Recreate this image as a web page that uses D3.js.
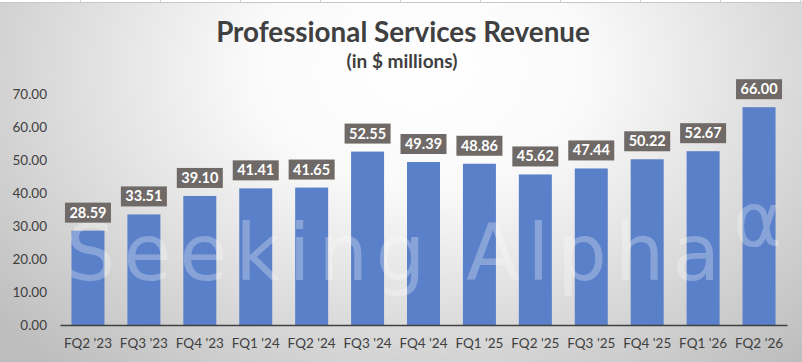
<!DOCTYPE html>
<html><head><meta charset="utf-8">
<script src="https://cdn.jsdelivr.net/npm/d3@7"></script>
<style>html,body{margin:0;padding:0;background:#fff}svg{display:block}</style>
</head><body>
<svg id="chart" width="802" height="362"></svg>
<script>
const categories = ["FQ2 '23","FQ3 '23","FQ4 '23","FQ1 '24","FQ2 '24","FQ3 '24","FQ4 '24","FQ1 '25","FQ2 '25","FQ3 '25","FQ4 '25","FQ1 '26","FQ2 '26"];
const values = [28.59,33.51,39.10,41.41,41.65,52.55,49.39,48.86,45.62,47.44,50.22,52.67,66.00];
const yTicks = [0,10,20,30,40,50,60,70];
const titleText = "Professional Services Revenue";
const subtitleText = "(in $ millions)";

const W = 802, H = 362;
const svg = d3.select("#chart");
const font = "Lato, 'Open Sans', sans-serif";

// background radial gradient
const defs = svg.append("defs");
const rg = defs.append("radialGradient").attr("id","bg")
  .attr("gradientUnits","userSpaceOnUse").attr("cx",420).attr("cy",70).attr("r",560)
  .attr("gradientTransform","translate(420,70) scale(1,0.7) translate(-420,-70)");
rg.append("stop").attr("offset","0%").attr("stop-color","#ffffff");
rg.append("stop").attr("offset","30%").attr("stop-color","#fafafa");
rg.append("stop").attr("offset","100%").attr("stop-color","#bdbdbd");
svg.append("rect").attr("width",W).attr("height",H).attr("fill","url(#bg)");

// top strip (sheet grid remnant)
svg.append("rect").attr("x",0).attr("y",0).attr("width",W).attr("height",2).attr("fill","#ffffff");
svg.append("line").attr("x1",0).attr("x2",W).attr("y1",2.5).attr("y2",2.5).attr("stroke","#c8c8c8");
d3.range(80, W, 80).forEach(x => svg.append("line").attr("x1",x+0.5).attr("x2",x+0.5).attr("y1",0).attr("y2",2).attr("stroke","#d0d0d0"));

const x = d3.scaleBand().domain(categories).range([60, 787]).paddingInner(0.41).paddingOuter(0.205);
const y = d3.scaleLinear().domain([0,70]).range([325, 94]);

// bars
svg.append("g").selectAll("rect").data(values).join("rect")
  .attr("x",(d,i)=>x(categories[i])).attr("width",x.bandwidth())
  .attr("y",d=>y(d)).attr("height",d=>y(0)-y(d))
  .attr("fill","#5a80c9");

// watermark on top of bars
const wmg = svg.append("g").attr("fill","#ffffff").attr("fill-opacity",0.28);
wmg.append("text").attr("x",66).attr("y",280)
  .attr("font-family","'DejaVu Sans', 'Noto Sans', sans-serif").attr("font-size",78)
  .attr("textLength",654).attr("lengthAdjust","spacing")
  .text("Seeking Alpha");
wmg.append("text").attr("x",733).attr("y",246)
  .attr("font-family","'DejaVu Sans', sans-serif").attr("font-size",74)
  .text("α");

// y axis labels
const yAxis = d3.axisLeft(y).tickValues(yTicks).tickFormat(d3.format(".2f")).tickSize(0).tickPadding(0);
const ya = svg.append("g").attr("transform","translate(47,0)").call(yAxis);
ya.select(".domain").remove();
ya.selectAll("text").attr("font-family",font).attr("font-size",13.5).attr("fill","#404040");

// x axis
const xAxis = d3.axisBottom(x).tickSize(0).tickPadding(13);
const xa = svg.append("g").attr("transform","translate(0,325)").call(xAxis);
xa.select(".domain").attr("stroke","#404040").attr("stroke-width",1.5);
xa.selectAll("text").attr("font-family",font).attr("font-size",13.5).attr("fill","#404040");

// data labels
const lg = svg.append("g");
values.forEach((v,i)=>{
  const cx = x(categories[i]) + x.bandwidth()/2;
  const top = y(v) - 8;
  lg.append("rect").attr("x",cx-23).attr("y",top-20).attr("width",46).attr("height",20).attr("fill","#6f6a67");
  lg.append("text").attr("x",cx).attr("y",top-5).attr("text-anchor","middle")
    .attr("font-family",font).attr("font-weight","bold").attr("font-size",14.5).attr("fill","#ffffff")
    .text(d3.format(".2f")(v));
});

// titles
const t = svg.append("text").attr("x",403).attr("y",42).attr("text-anchor","middle")
  .attr("font-family",font).attr("font-weight","bold").attr("font-size",27).attr("fill","#404040").text(titleText);
const tw = t.node().getComputedTextLength();
t.attr("font-size", 27*374/tw);
const s = svg.append("text").attr("x",402).attr("y",68).attr("text-anchor","middle")
  .attr("font-family",font).attr("font-weight","bold").attr("font-size",17).attr("fill","#404040").text(subtitleText);
const sw = s.node().getComputedTextLength();
s.attr("font-size", 17*111/sw);
</script>
</body></html>
